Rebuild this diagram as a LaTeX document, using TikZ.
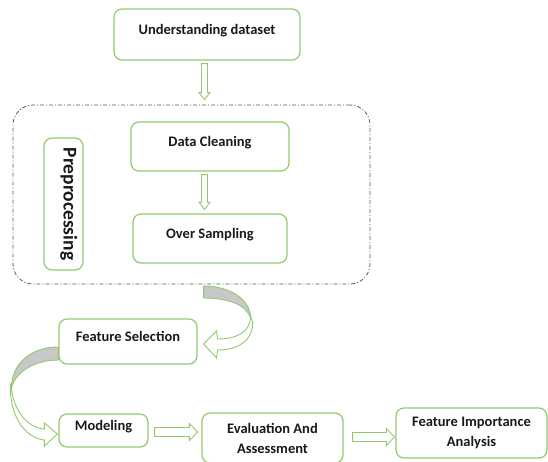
\documentclass[tikz,border=0pt]{standalone}
\usepackage{fontspec}
\setmainfont{Carlito}
\usetikzlibrary{calc}
\definecolor{boxgreen}{HTML}{8FCB6E}
\definecolor{bandgrey}{HTML}{C8C8C8}
\definecolor{txt}{HTML}{1A1A1A}
\definecolor{dashgrey}{HTML}{595959}
% hollow block arrow pointing down: from, to, xoffset, gap1, gap2
\newcommand\hollowdown[5]{%
  \draw[blockarrow] let \p1=($(#1.south)+(#3,#4)$), \p2=($(#2.north)+(#3,-#5)$) in
    (\x1-3pt,\y1) -- (\x1+3pt,\y1) -- (\x1+3pt,\y2+7pt) -- (\x1+5.5pt,\y2+7pt)
    -- (\x1,\y2) -- (\x1-5.5pt,\y2+7pt) -- (\x1-3pt,\y2+7pt) -- cycle;}
% hollow block arrow pointing right: from, to, yoffset, gap1, gap2
\newcommand\hollowright[5]{%
  \draw[blockarrow] let \p1=($(#1.east)+(#4,#3)$), \p2=($(#2.west)+(-#5,#3)$) in
    (\x1,\y1+4.5pt) -- (\x2-8pt,\y1+4.5pt) -- (\x2-8pt,\y1+8.5pt) -- (\x2,\y1)
    -- (\x2-8pt,\y1-8.5pt) -- (\x2-8pt,\y1-4.5pt) -- (\x1,\y1-4.5pt) -- cycle;}
\begin{document}
\begin{tikzpicture}[x=1pt,y=-1pt,
  box/.style={draw=boxgreen, line width=1.2pt, rounded corners=8pt, fill=white,
    text=txt, font=\fontsize{14.5}{20}\selectfont\bfseries, align=center, inner sep=0pt},
  oneline/.style={text height=5pt, text depth=5pt},
  blockarrow/.style={draw=boxgreen, line width=0.9pt, fill=white, line join=miter},
  band/.style={draw=boxgreen, line width=0.9pt, fill=bandgrey},
  prebox/.style={draw=dashgrey, line width=0.8pt, rounded corners=20pt,
    dash pattern=on 4pt off 2pt on 1pt off 2pt, inner sep=0pt}]
\useasboundingbox[fill=white] (0,0) rectangle (548,461);

\node[box, oneline, minimum width=186pt, minimum height=51pt] (ud) at (207,34.5) {Understanding dataset};
\node[prebox, minimum width=357pt, minimum height=179pt] (pre) at (191.5,194.5) {};
\node[box, oneline, minimum width=158pt, minimum height=49pt] (dc) at (210,146.5) {Data Cleaning};
\node[box, oneline, minimum width=154pt, minimum height=49pt] (os) at (210,238.5) {Over Sampling};
\node[box, rotate=-90, minimum width=132pt, minimum height=39pt,
  font=\fontsize{19.5}{20}\selectfont\bfseries, text height=7pt, text depth=7pt] (pp) at (63.5,204) {Preprocessing};
\node[box, oneline, minimum width=138pt, minimum height=45pt] (fs) at (128,341.5) {Feature Selection};
\node[box, oneline, minimum width=89pt, minimum height=33pt] (mo) at (103.5,430.5) {Modeling};
\node[box, minimum width=141pt, minimum height=50pt] (ev) at (272.5,438) {Evaluation And\\Assessment};
\node[box, minimum width=151pt, minimum height=50pt] (fi) at (471.5,433) {Feature Importance\\Analysis};

\hollowdown{ud}{pre}{-2.5}{3}{5}
\hollowdown{dc}{os}{-5.5}{3}{4}
\hollowright{mo}{ev}{1.5}{6}{4}
\hollowright{ev}{fi}{-1}{9}{1}

% curved arrow: preprocessing -> feature selection
\begin{scope}[shift={(fs.east)}]
  \draw[band] (6,-55.5) .. controls (33,-55.5) and (53,-41.5) .. (53,-23.5)
    .. controls (49,-36.5) and (31,-43.5) .. (6,-43.5) -- cycle;
  \draw[blockarrow] (53,-25.5) .. controls (53,-9.5) and (39,-2.5) .. (20,-2.5)
    -- (19,-10.5) -- (6,2.5) -- (19,16.5) -- (20,8.5)
    .. controls (43,8.5) and (56,-3.5) .. (55,-19.5) -- cycle;
\end{scope}
% curved arrow: feature selection -> modeling
\begin{scope}[shift={(fs.west)}]
  \draw[band] (0,5.5) .. controls (-29,5.5) and (-47,23.5) .. (-47,46.5)
    .. controls (-43,30.5) and (-24,18.5) .. (0,18.5) -- cycle;
  \draw[blockarrow] (-47,46.5) .. controls (-45,68.5) and (-31,86.5) .. (-14,87.5)
    -- (-14,81.5) -- (-1,92.5) -- (-14,104.5) -- (-14,98.5)
    .. controls (-34,96.5) and (-49,73.5) .. (-48,43.5) -- cycle;
\end{scope}
\end{tikzpicture}
\end{document}
